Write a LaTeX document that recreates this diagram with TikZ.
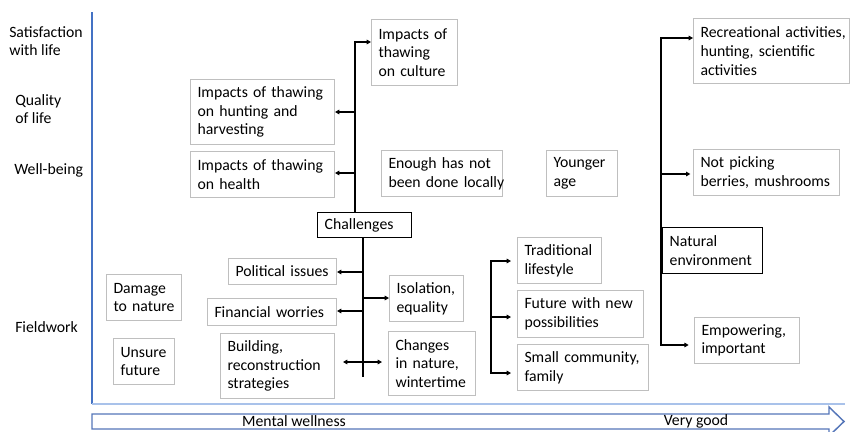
\documentclass[tikz,border=0pt]{standalone}
\usepackage{fontspec}
\setmainfont{Carlito}
\usetikzlibrary{arrows.meta}
\newcommand\diagfont{\fontsize{11.8}{14}\selectfont}
\definecolor{boxgray}{HTML}{BFBFBF}
\definecolor{axisblue}{HTML}{4472C4}
\definecolor{baseblue}{HTML}{A9C2EA}
\definecolor{arrowblue}{HTML}{5576B9}
\tikzset{
  box/.style={draw=boxgray, line width=0.75pt, anchor=north west, align=left,
    inner xsep=5.25pt, inner ysep=1pt, font=\diagfont},
  kbox/.style={box, draw=black, line width=1.1pt},
  lab/.style={anchor=west, align=left, inner sep=0pt, font=\diagfont},
  arr/.style={-{Triangle[length=3.2pt,width=3.4pt]}, line width=1.1pt},
  darr/.style={{Triangle[length=3.2pt,width=3.4pt]}-{Triangle[length=3.2pt,width=3.4pt]}, line width=1.1pt},
  stem/.style={line width=1.6pt, line cap=rect},
}
\begin{document}
% lines in boxes are broken by hand only
\hyphenpenalty=10000
\exhyphenpenalty=10000
\lefthyphenmin=64
\begin{tikzpicture}[x=0.75pt,y=-0.75pt]
\useasboundingbox (0,0) rectangle (850,432);

% axes
\draw[axisblue, line width=1.1pt] (92,12) -- (92,404);
\draw[baseblue, line width=1.1pt] (92,404) -- (845,404);
\draw[arrowblue, line width=1.1pt, fill=white]
  (92,414) -- (829,414) -- (829,407) -- (844,421.5) -- (829,436) -- (829,429) -- (92,429) -- cycle;
\node[font=\diagfont] (mw) at (294,421.5) {Mental wellness};
\node[font=\diagfont] (vg) at (696,421.5) {Very good};

% level labels
\node[lab] (sat) at (9,41) {Satisfaction\\with life};
\node[lab] (qol) at (15,109) {Quality\\of life};
\node[lab] (wb) at (14,170) {Well-being};
\node[lab] (fw) at (15,327) {Fieldwork};

% boxes
\node[box, text width=97.5pt, minimum height=48.75pt] (hunt) at (190,79) {Impacts~of~thawing\\on~hunting~and\\harvesting};
\node[box, text width=97.5pt, minimum height=34.5pt] (health) at (190,151) {Impacts~of~thawing\\on~health};
\node[box, text width=54pt, minimum height=49.5pt] (culture) at (371,19) {Impacts~of\\thawing\\on~culture};
\node[box, text width=80.25pt, minimum height=34.5pt] (enough) at (381,150) {Enough~has~not\\been~done~locally};
\node[box, text width=42.75pt, minimum height=34.5pt] (younger) at (546,150) {Younger\\age};
\node[box, text width=106.5pt, minimum height=48.75pt] (recre) at (693,18) {Recreational~activities,\\hunting,~scientific\\activities};
\node[box, text width=99pt, minimum height=34.5pt] (berries) at (693,149) {Not~picking\\berries,~mushrooms};
\node[kbox, text width=64.5pt, minimum height=34.5pt] (natural) at (662,227) {Natural\\environment};
\node[box, text width=68.25pt, minimum height=34.5pt] (empower) at (694,317) {Empowering,\\important};

\node[kbox, text width=60pt, minimum height=18.75pt] (challenges) at (317,212) {Challenges};
\node[box, text width=70.5pt, minimum height=19.5pt] (political) at (228,258) {Political~issues};
\node[box, text width=86.25pt, minimum height=20.25pt] (financial) at (207,298) {Financial~worries};
\node[box, text width=75pt, minimum height=48.75pt] (building) at (220,333) {Building,\\reconstruction\\strategies};
\node[box, text width=45pt, minimum height=34.5pt] (isolation) at (389,275) {Isolation,\\equality};
\node[box, text width=54.75pt, minimum height=48pt] (changes) at (388,331) {Changes\\in~nature,\\wintertime};

\node[box, text width=52.5pt, minimum height=34.5pt] (traditional) at (517,237) {Traditional\\lifestyle};
\node[box, text width=84pt, minimum height=35.25pt] (future) at (517,290) {Future~with~new\\possibilities};
\node[box, text width=87.75pt, minimum height=34.5pt] (small) at (517,344) {Small~community,\\family};

\node[box, text width=45.75pt, minimum height=34.5pt] (damage) at (106,274) {Damage\\to~nature};
\node[box, text width=35.25pt, minimum height=34.5pt] (unsure) at (113,338) {Unsure\\future};

% challenges: upper branch
\coordinate (ctop) at (355,42);
\coordinate (hj) at (355,112);
\coordinate (wj) at (355,173);
\draw[stem] (challenges.north -| ctop) -- (ctop);
\draw[arr] (ctop) -- (ctop -| culture.west);
\draw[arr] (hj) -- (hj -| hunt.east);
\draw[arr] (wj) -- (wj -| health.east);

% challenges: lower branch
\coordinate (cbot) at (363,376);
\coordinate (pj) at (363,272);
\coordinate (ij) at (363,298);
\coordinate (fj) at (363,311);
\coordinate (bj) at (363,362);
\draw[stem] (challenges.south -| cbot) -- (cbot);
\draw[arr] (pj) -- (pj -| political.east);
\draw[arr] (ij) -- (ij -| isolation.west);
\draw[arr] (fj) -- (fj -| financial.east);
\draw[darr, shorten <=6pt, shorten >=4.5pt] (bj -| building.east) -- (bj -| changes.west);

% community bracket
\coordinate (mt) at (491,261);
\coordinate (mm) at (491,317);
\coordinate (mb) at (491,373);
\draw[stem] (mt) -- (mb);
\draw[arr, shorten >=4.5pt] (mt) -- (mt -| traditional.west);
\draw[arr, shorten >=4.5pt] (mm) -- (mm -| future.west);
\draw[arr, shorten >=4.5pt] (mb) -- (mb -| small.west);

% natural environment branch
\coordinate (nt) at (661,38);
\coordinate (nm) at (661,174);
\coordinate (nb) at (661,345);
\draw[line width=2.2pt, line cap=rect] (nt) -- (nb);
\draw[arr] (nt) -- (nt -| recre.west);
\draw[arr, shorten >=2pt] (nm) -- (nm -| berries.west);
\draw[arr, shorten >=4pt] (nb) -- (nb -| empower.west);
\end{tikzpicture}
\end{document}
